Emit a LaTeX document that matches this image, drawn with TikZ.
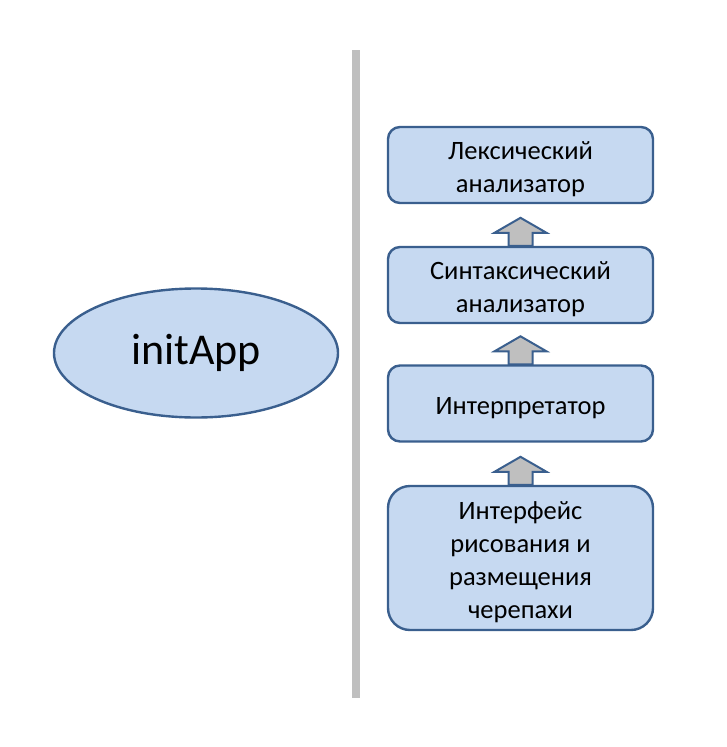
\documentclass[tikz,border=0pt]{standalone}
\usepackage{fontspec}
\setmainfont{Carlito}
\usetikzlibrary{shapes.geometric}
\definecolor{boxfill}{HTML}{C6D9F1}
\definecolor{boxline}{HTML}{3A5F8E}
\definecolor{arrfill}{HTML}{BFBFBF}
\definecolor{sepline}{HTML}{BFBFBF}
\newcommand{\ls}{\rule[-5.5pt]{0pt}{33pt}}
\tikzset{
  stagebox/.style={draw=boxline, fill=boxfill, line width=2.4pt, rounded corners=12pt,
    minimum width=265pt, minimum height=76pt, inner sep=0pt, align=center,
    font=\fontsize{26.5}{33}\selectfont},
  bigbox/.style={stagebox, minimum height=144pt, rounded corners=22pt},
  barrow/.style={draw=boxline, fill=arrfill, line width=2pt, line join=miter},
  mainoval/.style={ellipse, draw=boxline, fill=boxfill, line width=2.4pt,
    minimum width=284pt, minimum height=129pt, inner sep=0pt,
    font=\fontsize{44}{52}\selectfont}
}
\begin{document}
\begin{tikzpicture}[x=1pt,y=-1pt]
\useasboundingbox (0,0) rectangle (726,747);
\node[mainoval] (app) at (196,353) {initApp};
\draw[sepline, line width=8pt] (356,50) coordinate (s1) -- (356,698) coordinate (s2);
\node[stagebox] (b1) at (520.5,165) {\ls Лексический\\\ls анализатор};
\node[stagebox] (b2) at (520.5,285) {\ls Синтаксический\\\ls анализатор};
\node[stagebox] (b3) at (520.5,403.5) {\ls Интерпретатор};
\node[bigbox] (b4) at (520.5,558) {\ls Интерфейс\\\ls рисования и\\\ls размещения\\\ls черепахи};
\foreach \n in {b2,b3,b4}{
  \draw[barrow] (\n.north) ++(-12,0) -- ++(0,-13) -- ++(-14,0) -- ++(26,-15) -- ++(26,15) -- ++(-14,0) -- ++(0,13) -- cycle;
}
\end{tikzpicture}
\end{document}
